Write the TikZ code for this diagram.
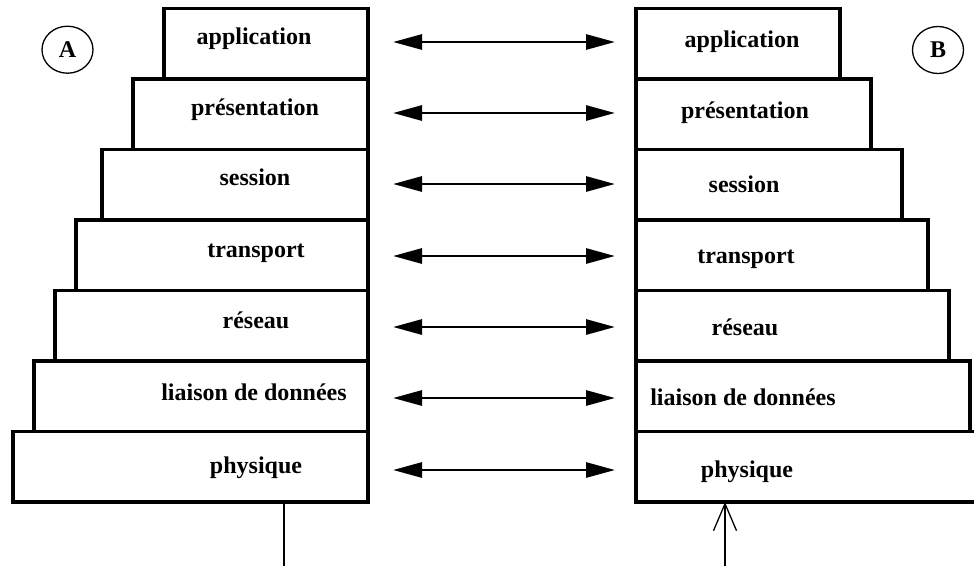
\documentclass[tikz,border=0pt]{standalone}
\usepackage{fontspec}
\setmainfont{Liberation Serif}
\usetikzlibrary{arrows.meta,shapes.geometric}
\begin{document}
\begin{tikzpicture}[x=1pt,y=-1pt,
  layer/.style={draw, line width=3.3pt, inner sep=0pt, outer sep=0pt, minimum height=70.5pt},
  lbl/.style={font=\fontsize{24}{28}\selectfont\bfseries, anchor=base, inner sep=0pt},
  peer/.style={line width=2.8pt, {Triangle[length=29pt,width=15pt]}-{Triangle[length=29pt,width=15pt]}, shorten <=25pt, shorten >=21pt},
  host/.style={ellipse, draw, line width=1.3pt, minimum width=51pt, minimum height=47pt, inner sep=0pt, font=\fontsize{24}{28}\selectfont\bfseries},
  wire/.style={line width=1.3pt}
]
\useasboundingbox (0,0) rectangle (974,566);
\clip (0,0) rectangle (974,566);

% left stack
\node[layer, minimum width=204pt, anchor=north east] (l1) at (368,8.5) {};
\node[layer, minimum width=235pt, anchor=north east] (l2) at (368,79) {};
\node[layer, minimum width=266pt, anchor=north east] (l3) at (368,149.5) {};
\node[layer, minimum width=292pt, anchor=north east] (l4) at (368,220) {};
\node[layer, minimum width=313pt, anchor=north east] (l5) at (368,290.5) {};
\node[layer, minimum width=334pt, anchor=north east] (l6) at (368,361) {};
\node[layer, minimum width=355pt, anchor=north east] (l7) at (368,431.5) {};

% right stack
\node[layer, minimum width=204pt, anchor=north west] (r1) at (636,8.5) {};
\node[layer, minimum width=235pt, anchor=north west] (r2) at (636,79) {};
\node[layer, minimum width=266pt, anchor=north west] (r3) at (636,149.5) {};
\node[layer, minimum width=292pt, anchor=north west] (r4) at (636,220) {};
\node[layer, minimum width=313pt, anchor=north west] (r5) at (636,290.5) {};
\node[layer, minimum width=334pt, anchor=north west] (r6) at (636,361) {};
\node[layer, minimum width=355pt, anchor=north west] (r7) at (636,431.5) {};

% left labels
\node[lbl] (tl1) at (254,44) {application};
\node[lbl] (tl2) at (255,115.5) {présentation};
\node[lbl] (tl3) at (255,185.5) {session};
\node[lbl] (tl4) at (256,257) {transport};
\node[lbl] (tl5) at (256,328.5) {réseau};
\node[lbl] (tl6) at (254,400.5) {liaison de données};
\node[lbl] (tl7) at (256,473.5) {physique};

% right labels
\node[lbl] (tr1) at (742,47.5) {application};
\node[lbl] (tr2) at (745,118.5) {présentation};
\node[lbl] (tr3) at (744,192) {session};
\node[lbl] (tr4) at (746,263.5) {transport};
\node[lbl] (tr5) at (745,335) {réseau};
\node[lbl] (tr6) at (743,405.5) {liaison de données};
\node[lbl] (tr7) at (747,477.5) {physique};

% hosts
\node[host] (A) at (67.5,49.7) {A};
\node[host] (B) at (938,50) {B};

% peer arrows
\draw[peer] ([yshift=1.75pt]l1.east) -- ([yshift=1.75pt]r1.west);
\draw[peer] ([yshift=1.25pt]l2.east) -- ([yshift=1.25pt]r2.west);
\draw[peer] ([yshift=0.75pt]l3.east) -- ([yshift=0.75pt]r3.west);
\draw[peer] ([yshift=-0.75pt]l4.east) -- ([yshift=-0.75pt]r4.west);
\draw[peer] ([yshift=-1.25pt]l5.east) -- ([yshift=-1.25pt]r5.west);
\draw[peer] ([yshift=-1.75pt]l6.east) -- ([yshift=-1.75pt]r6.west);
\draw[peer] ([yshift=-3.25pt]l7.east) -- ([yshift=-3.25pt]r7.west);

% medium
\coordinate (lb) at (284,566);
\coordinate (rb) at (725,566);
\draw[wire] (lb) -- (lb |- l7.south);
\draw[wire, -{Straight Barb[length=27pt,width=23pt,line width=1.3pt]}] (rb) -- (rb |- r7.south);
\end{tikzpicture}
\end{document}
